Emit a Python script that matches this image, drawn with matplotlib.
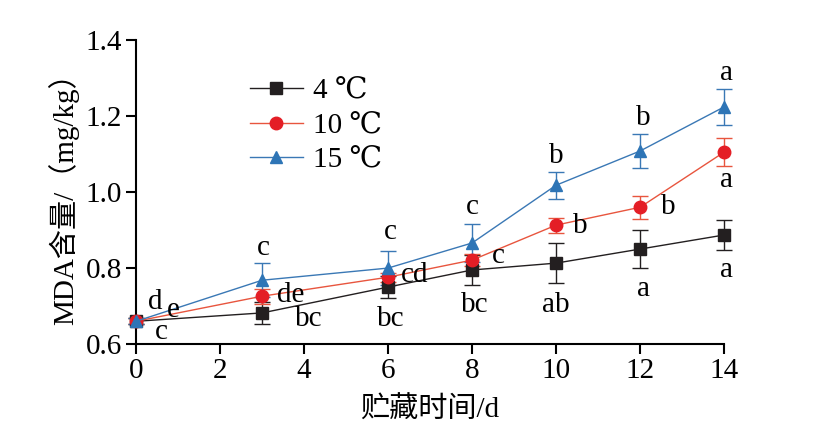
import matplotlib
matplotlib.use('Agg')
import matplotlib.pyplot as plt

plt.rcParams['font.family'] = ['Liberation Serif', 'DejaVu Serif', 'Noto Sans CJK SC']

# 数据
days = [0, 3, 6, 8, 10, 12, 14]
mda_4 = [0.660, 0.682, 0.750, 0.795, 0.813, 0.850, 0.887]
err_4 = [0.008, 0.030, 0.030, 0.040, 0.053, 0.051, 0.040]
mda_10 = [0.660, 0.726, 0.776, 0.821, 0.913, 0.960, 1.105]
err_10 = [0.008, 0.020, 0.012, 0.015, 0.020, 0.030, 0.037]
mda_15 = [0.660, 0.768, 0.800, 0.866, 1.018, 1.108, 1.224]
err_15 = [0.008, 0.045, 0.045, 0.050, 0.036, 0.046, 0.047]

letters_4 = ['c', 'bc', 'bc', 'bc', 'ab', 'a', 'a']
letters_10 = ['e', 'de', 'cd', 'c', 'b', 'b', 'a']
letters_15 = ['d', 'c', 'c', 'c', 'b', 'b', 'a']

labels = ['4 ℃', '10 ℃', '15 ℃']

fig = plt.figure(figsize=(8.2, 4.4), dpi=100)
ax = fig.add_axes([0.166, 0.218, 0.717, 0.691])

series = [
    (mda_4, err_4, 's', '#231f20', '#231f20', '#231f20'),
    (mda_10, err_10, 'o', '#e8553e', '#e41e26', '#e8553e'),
    (mda_15, err_15, '^', '#3a78b5', '#2e75b6', '#3a78b5'),
]
for (vals, errs, mk, lc, mc, ec), lab in zip(series, labels):
    ax.errorbar(days, vals, yerr=errs, fmt='none', ecolor=ec, elinewidth=1.0,
                capsize=6, capthick=1.0, zorder=2, clip_on=False)
    ax.plot(days, vals, color=lc, lw=1.0, marker=mk, markersize=9,
            markerfacecolor=mc, markeredgecolor=mc, label=lab, zorder=3,
            clip_on=False)

# 显著性字母位置
pos_4 = [(0.6, 0.637), (4.1, 0.671), (6.07, 0.671), (8.07, 0.708),
         (10.0, 0.708), (12.07, 0.75), (14.07, 0.80)]
pos_10 = [(0.88, 0.695), (3.67, 0.734), (6.64, 0.787), (8.62, 0.839),
          (10.57, 0.918), (12.67, 0.968), (14.07, 1.037)]
pos_15 = [(0.45, 0.716), (3.02, 0.86), (6.05, 0.90), (8.0, 0.966),
          (10.0, 1.10), (12.07, 1.20), (14.07, 1.32)]
for lets, pos in [(letters_4, pos_4), (letters_10, pos_10), (letters_15, pos_15)]:
    for t, (x, y) in zip(lets, pos):
        ax.text(x, y - 0.006, t, fontsize=21, ha='center', va='center')

ax.set_xlim(0, 14)
ax.set_ylim(0.6, 1.4)
ax.set_xticks(range(0, 15, 2))
ax.set_yticks([0.6, 0.8, 1.0, 1.2, 1.4])
ax.set_yticklabels(['0.6', '0.8', '1.0', '1.2', '1.4'])
ax.spines['top'].set_visible(False)
ax.spines['right'].set_visible(False)
ax.spines['left'].set_linewidth(1.5)
ax.spines['bottom'].set_linewidth(1.5)
ax.tick_params(direction='out', length=7, width=1.5, labelsize=21, pad=3)

ax.set_xlabel('贮藏时间/d', fontsize=21, labelpad=9)
ax.set_ylabel('MDA含量/（mg/kg）', fontsize=21, labelpad=5)

ax.legend(loc='upper left', bbox_to_anchor=(0.194, 0.875), frameon=False,
          fontsize=21, handlelength=1.8, handletextpad=0.35, labelspacing=0.28,
          borderpad=0, borderaxespad=0)

fig.savefig('out.png', dpi=100)
